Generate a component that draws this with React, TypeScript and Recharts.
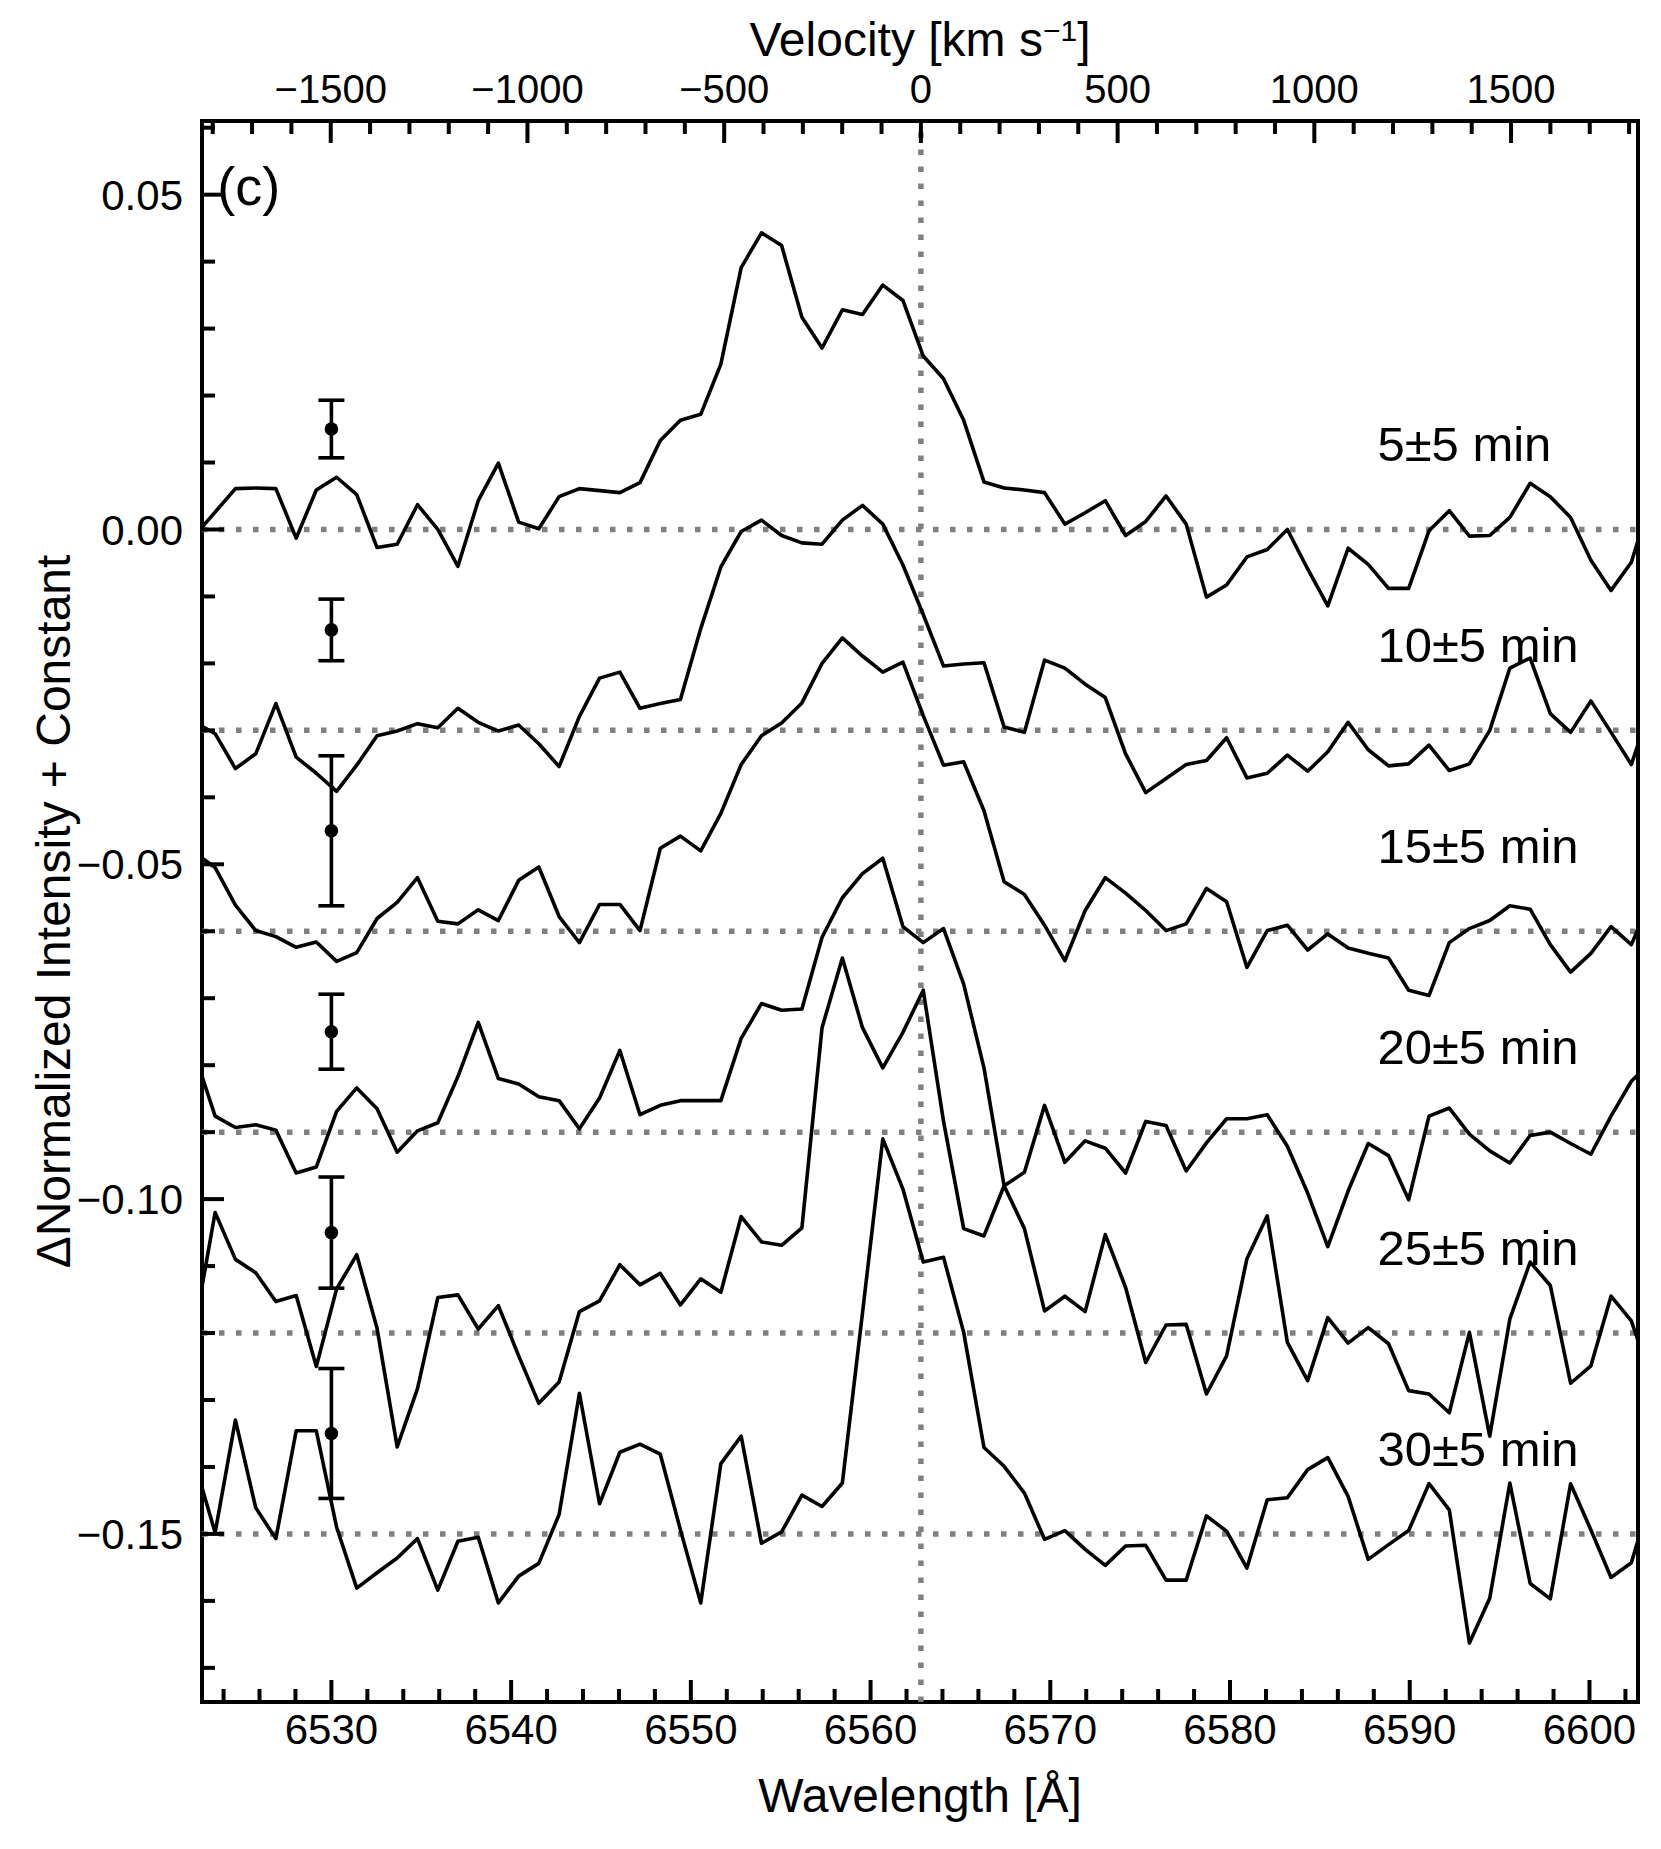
import React from "react";
import {
  ComposedChart,
  Line,
  Scatter,
  ErrorBar,
  XAxis,
  YAxis,
  ReferenceLine,
  ReferenceArea,
  ReferenceDot,
  Label,
} from "recharts";

// wavelength grid (Angstrom), one value per spectral pixel
const wavelengths = [
  6522.41, 6523.53, 6524.66, 6525.79, 6526.91, 6528.04, 6529.16, 6530.29, 6531.41, 6532.54,
  6533.66, 6534.79, 6535.92, 6537.04, 6538.17, 6539.29, 6540.42, 6541.54, 6542.67, 6543.8,
  6544.92, 6546.05, 6547.17, 6548.3, 6549.42, 6550.55, 6551.67, 6552.8, 6553.93, 6555.05,
  6556.18, 6557.3, 6558.43, 6559.55, 6560.68, 6561.8, 6562.93, 6564.06, 6565.18, 6566.31,
  6567.43, 6568.56, 6569.68, 6570.81, 6571.94, 6573.06, 6574.19, 6575.31, 6576.44, 6577.56,
  6578.69, 6579.81, 6580.94, 6582.07, 6583.19, 6584.32, 6585.44, 6586.57, 6587.69, 6588.82,
  6589.94, 6591.07, 6592.2, 6593.32, 6594.45, 6595.57, 6596.7, 6597.82, 6598.95, 6600.08,
  6601.2, 6602.33, 6603.45,
];

// delta normalized intensity + constant, one list per time bin
const flux5 = [
  -0.0009, 0.0026, 0.0061, 0.0062, 0.0061, -0.0013, 0.0059, 0.0078, 0.0052, -0.0027,
  -0.0022, 0.0037, 0.0, -0.0055, 0.0043, 0.0099, 0.0011, 0.0001, 0.0049, 0.0061,
  0.0058, 0.0055, 0.007, 0.0133, 0.0163, 0.0172, 0.0247, 0.0391, 0.0443, 0.0424,
  0.0317, 0.0271, 0.0328, 0.0321, 0.0365, 0.0342, 0.0259, 0.0225, 0.0163, 0.0071,
  0.0062, 0.0059, 0.0055, 0.0008, 0.0025, 0.0043, -0.0009, 0.0012, 0.005, 0.0008,
  -0.0101, -0.0083, -0.0041, -0.003, 0.0, -0.0059, -0.0114, -0.0028, -0.0052, -0.0088,
  -0.0088, -0.0002, 0.0028, -0.001, -0.0009, 0.0018, 0.0069, 0.0049, 0.0018, -0.0046,
  -0.0091, -0.0049, 0.0049,
];
const flux10 = [
  -0.0288, -0.0305, -0.0357, -0.0335, -0.026, -0.034, -0.0364, -0.0391, -0.0352, -0.0308,
  -0.0301, -0.029, -0.0296, -0.0267, -0.0288, -0.0301, -0.0292, -0.032, -0.0354, -0.0279,
  -0.0222, -0.0213, -0.0267, -0.026, -0.0254, -0.0148, -0.0056, -0.0003, 0.0014, -0.0009,
  -0.002, -0.0022, 0.0014, 0.0036, 0.0008, -0.0053, -0.0127, -0.0204, -0.0201, -0.0199,
  -0.0295, -0.0303, -0.0195, -0.0207, -0.0231, -0.0251, -0.0335, -0.0393, -0.0372, -0.0351,
  -0.0345, -0.0311, -0.0371, -0.0364, -0.0337, -0.0361, -0.0332, -0.0288, -0.0329, -0.0353,
  -0.035, -0.0322, -0.036, -0.035, -0.03, -0.0207, -0.0192, -0.0275, -0.0303, -0.0256,
  -0.0303, -0.0351, -0.026,
];
const flux15 = [
  -0.0483, -0.0505, -0.0561, -0.0599, -0.0608, -0.0624, -0.0616, -0.0645, -0.0632, -0.0581,
  -0.0557, -0.052, -0.0585, -0.0589, -0.0568, -0.0584, -0.0524, -0.0504, -0.0578, -0.0617,
  -0.056, -0.056, -0.0599, -0.0476, -0.0458, -0.048, -0.0424, -0.0351, -0.0308, -0.0289,
  -0.0259, -0.02, -0.0162, -0.0189, -0.0213, -0.0198, -0.0278, -0.0352, -0.0347, -0.042,
  -0.0526, -0.0545, -0.0591, -0.0644, -0.0569, -0.052, -0.0543, -0.0569, -0.0599, -0.0589,
  -0.0536, -0.0556, -0.0654, -0.0599, -0.0591, -0.0628, -0.0604, -0.0625, -0.0633, -0.064,
  -0.0688, -0.0696, -0.0617, -0.0596, -0.0584, -0.0562, -0.0567, -0.062, -0.0661, -0.0633,
  -0.0593, -0.062, -0.055,
];
const flux20 = [
  -0.0785, -0.0876, -0.0893, -0.0889, -0.0897, -0.0961, -0.0952, -0.0869, -0.0834, -0.0865,
  -0.093, -0.0898, -0.0886, -0.0817, -0.0736, -0.082, -0.0828, -0.0847, -0.0853, -0.0895,
  -0.0849, -0.0778, -0.0874, -0.086, -0.0853, -0.0853, -0.0853, -0.076, -0.0708, -0.0718,
  -0.0716, -0.0609, -0.055, -0.0514, -0.0491, -0.0593, -0.0617, -0.0596, -0.0679, -0.0804,
  -0.098, -0.096, -0.086, -0.0945, -0.0913, -0.0924, -0.0961, -0.0884, -0.089, -0.0958,
  -0.0916, -0.088, -0.088, -0.0874, -0.0921, -0.0991, -0.1071, -0.0988, -0.0917, -0.0935,
  -0.1001, -0.0876, -0.0864, -0.0903, -0.0928, -0.0946, -0.0905, -0.09, -0.0917, -0.0933,
  -0.0876, -0.0824, -0.0795,
];
const flux25 = [
  -0.119, -0.102, -0.109, -0.111, -0.1153, -0.1144, -0.125, -0.1134, -0.1083, -0.1193,
  -0.137, -0.1283, -0.1147, -0.1143, -0.1194, -0.1159, -0.1234, -0.1305, -0.1273, -0.1168,
  -0.1152, -0.1098, -0.1128, -0.1111, -0.1158, -0.1119, -0.1139, -0.1026, -0.1064, -0.1069,
  -0.1043, -0.0744, -0.064, -0.0744, -0.0804, -0.0751, -0.0688, -0.0884, -0.1044, -0.1055,
  -0.098, -0.1044, -0.1167, -0.1145, -0.1168, -0.1053, -0.1132, -0.1244, -0.1188, -0.1187,
  -0.1291, -0.1234, -0.1089, -0.1025, -0.1214, -0.1271, -0.1177, -0.1215, -0.1192, -0.1216,
  -0.1286, -0.1291, -0.1319, -0.1199, -0.1354, -0.1179, -0.1094, -0.1129, -0.1275, -0.1249,
  -0.1145, -0.1182, -0.127,
];
const flux30 = [
  -0.1395, -0.1498, -0.133, -0.1461, -0.1507, -0.1346, -0.1346, -0.149, -0.1581, -0.1558,
  -0.1536, -0.1507, -0.1584, -0.1511, -0.1505, -0.1603, -0.1563, -0.1544, -0.1471, -0.129,
  -0.1455, -0.1378, -0.1366, -0.1381, -0.1494, -0.1603, -0.1395, -0.1354, -0.1514, -0.1497,
  -0.1442, -0.1459, -0.1424, -0.117, -0.091, -0.0985, -0.1094, -0.1087, -0.1199, -0.1371,
  -0.1399, -0.1439, -0.1508, -0.1495, -0.1523, -0.1547, -0.1518, -0.1517, -0.1569, -0.1569,
  -0.1473, -0.1496, -0.1551, -0.1449, -0.1446, -0.1404, -0.1386, -0.1444, -0.1538, -0.1516,
  -0.1495, -0.1425, -0.1464, -0.1663, -0.1596, -0.1424, -0.1574, -0.1597, -0.1425, -0.1494,
  -0.1565, -0.1543, -0.1442,
];

const seriesKeys = ["s5", "s10", "s15", "s20", "s25", "s30"];
const seriesLabels = ["5±5 min", "10±5 min", "15±5 min", "20±5 min", "25±5 min", "30±5 min"];
const baselines = [0, -0.03, -0.06, -0.09, -0.12, -0.15];

// representative error bars, drawn at 6530 A
const errorWavelength = 6530;
const errorCenters = [0.015, -0.015, -0.045, -0.075, -0.105, -0.135];
const errorSizes = [0.0043, 0.0046, 0.0112, 0.0056, 0.0083, 0.0097];

const wlMajorTicks = [6530, 6540, 6550, 6560, 6570, 6580, 6590, 6600];
const wlMinorTicks = [
  6524, 6526, 6528, 6532, 6534, 6536, 6538, 6542, 6544, 6546, 6548, 6552, 6554, 6556, 6558,
  6562, 6564, 6566, 6568, 6572, 6574, 6576, 6578, 6582, 6584, 6586, 6588, 6592, 6594, 6596,
  6598, 6602,
];
const velMajorTicks = [-1500, -1000, -500, 0, 500, 1000, 1500];
const velMinorTicks = [
  -1800, -1700, -1600, -1400, -1300, -1200, -1100, -900, -800, -700, -600, -400, -300, -200,
  -100, 100, 200, 300, 400, 600, 700, 800, 900, 1100, 1200, 1300, 1400, 1600, 1700, 1800,
];
const yMajorTicks = [-0.15, -0.1, -0.05, 0, 0.05];
const yMinorTicks = [
  -0.17, -0.16, -0.14, -0.13, -0.12, -0.11, -0.09, -0.08, -0.07, -0.06, -0.04, -0.03, -0.02,
  -0.01, 0.01, 0.02, 0.03, 0.04, 0.06,
];

const HALPHA = 6562.8;
const C_KMS = 299792.458;
const xDomain: [number, number] = [6522.8, 6602.7];
const yDomain: [number, number] = [-0.1751, 0.061];

const FONT = "'Liberation Sans', Arial, Helvetica, sans-serif";
const MAJOR_LEN = 22;
const MINOR_LEN = 13;
const TICK_W = 4;

const toWl = (v: number) => HALPHA * (1 + v / C_KMS);
const toVel = (wl: number) => C_KMS * (wl / HALPHA - 1);
const minus = (s: string) => s.replace("-", "\u2212");

const rows = wavelengths.map((wl, i) => ({
  wl,
  s5: flux5[i],
  s10: flux10[i],
  s15: flux15[i],
  s20: flux20[i],
  s25: flux25[i],
  s30: flux30[i],
}));

const errorRows = errorCenters.map((y, i) => ({ wl: errorWavelength, y, err: errorSizes[i] }));

const BottomTick = (props: any) => {
  const { x, y, payload } = props;
  const major = wlMajorTicks.includes(payload.value);
  return (
    <g>
      <line x1={x} y1={y} x2={x} y2={y - (major ? MAJOR_LEN : MINOR_LEN)} stroke="#000" strokeWidth={TICK_W} />
      {major && (
        <text x={x} y={y + 42} textAnchor="middle" fontSize={42} fontFamily={FONT} fill="#000">
          {payload.value}
        </text>
      )}
    </g>
  );
};

const TopTick = (props: any) => {
  const { x, y, payload } = props;
  const v = Math.round(toVel(payload.value));
  const major = velMajorTicks.includes(v);
  return (
    <g>
      <line x1={x} y1={y} x2={x} y2={y + (major ? MAJOR_LEN : MINOR_LEN)} stroke="#000" strokeWidth={TICK_W} />
      {major && (
        <text x={x} y={y - 18} textAnchor="middle" fontSize={40} fontFamily={FONT} fill="#000">
          {minus(String(v))}
        </text>
      )}
    </g>
  );
};

const LeftTick = (props: any) => {
  const { x, y, payload } = props;
  const major = yMajorTicks.includes(payload.value);
  return (
    <g>
      <line x1={x} y1={y} x2={x + (major ? MAJOR_LEN : MINOR_LEN)} y2={y} stroke="#000" strokeWidth={TICK_W} />
      {major && (
        <text x={x - 19} y={y} dy="0.36em" textAnchor="end" fontSize={42} fontFamily={FONT} fill="#000">
          {minus(payload.value.toFixed(2))}
        </text>
      )}
    </g>
  );
};

const App: React.FC = () => {
  return (
    <div style={{ width: 1645, height: 1833 }}>
      <ComposedChart
        width={1645}
        height={1833}
        data={rows}
        margin={{ top: 73, right: 15, bottom: 99, left: 134 }}
      >
        <XAxis
          dataKey="wl"
          type="number"
          domain={xDomain}
          allowDataOverflow
          ticks={[...wlMajorTicks, ...wlMinorTicks]}
          interval={0}
          tick={(p: any) => <BottomTick {...p} />}
          tickLine={false}
          axisLine={false}
          tickSize={0}
          tickMargin={0}
          height={40}
        >
          <Label
            content={(p: any) => {
              const vb = p.viewBox;
              return (
                <text x={vb.x + vb.width / 2} y={vb.y + 110} textAnchor="middle" fontSize={48} fontFamily={FONT} fill="#000">
                  Wavelength [Å]
                </text>
              );
            }}
          />
        </XAxis>
        <XAxis
          xAxisId="top"
          orientation="top"
          dataKey="wl"
          type="number"
          domain={xDomain}
          allowDataOverflow
          ticks={[...velMajorTicks, ...velMinorTicks].map(toWl)}
          interval={0}
          tick={(p: any) => <TopTick {...p} />}
          tickLine={false}
          axisLine={false}
          tickSize={0}
          tickMargin={0}
          height={40}
        >
          <Label
            content={(p: any) => {
              const vb = p.viewBox;
              return (
                <text x={vb.x + vb.width / 2} y={vb.y + vb.height - 65} textAnchor="middle" fontSize={48} fontFamily={FONT} fill="#000">
                  Velocity [km s
                  <tspan dy={-15} fontSize={30}>
                    −1
                  </tspan>
                  <tspan dy={15}>]</tspan>
                </text>
              );
            }}
          />
        </XAxis>
        <YAxis
          type="number"
          domain={yDomain}
          allowDataOverflow
          ticks={[...yMajorTicks, ...yMinorTicks]}
          interval={0}
          tick={(p: any) => <LeftTick {...p} />}
          tickLine={false}
          axisLine={false}
          tickSize={0}
          tickMargin={0}
          width={60}
        >
          <Label
            content={(p: any) => {
              const vb = p.viewBox;
              const cx = vb.x + vb.width - 149;
              const cy = vb.y + vb.height / 2;
              return (
                <text
                  x={cx}
                  y={cy}
                  dy="0.36em"
                  transform={`rotate(-90, ${cx}, ${cy})`}
                  textAnchor="middle"
                  fontSize={48}
                  fontFamily={FONT}
                  fill="#000"
                >
                  ΔNormalized Intensity + Constant
                </text>
              );
            }}
          />
        </YAxis>

        {baselines.map((b) => (
          <ReferenceLine key={`base-${b}`} y={b} stroke="#808080" strokeWidth={5.5} strokeDasharray="5.5 11.5" />
        ))}
        <ReferenceLine x={HALPHA} stroke="#808080" strokeWidth={5.5} strokeDasharray="5.5 11.5" />

        {seriesKeys.map((k) => (
          <Line
            key={k}
            dataKey={k}
            type="linear"
            stroke="#000"
            strokeWidth={3.6}
            strokeLinejoin="round"
            dot={false}
            activeDot={false}
            isAnimationActive={false}
          />
        ))}

        <Scatter
          data={errorRows}
          dataKey="y"
          isAnimationActive={false}
          shape={(p: any) => <circle cx={p.cx} cy={p.cy} r={6.8} fill="#000" />}
        >
          <ErrorBar dataKey="err" direction="y" width={13} strokeWidth={3.6} stroke="#000" isAnimationActive={false} />
        </Scatter>

        {seriesLabels.map((lab, i) => (
          <ReferenceDot
            key={lab}
            x={6588.2}
            y={baselines[i] + 0.0102}
            r={0}
            shape={(p: any) => (
              <text x={p.cx} y={p.cy} textAnchor="start" fontSize={49} fontFamily={FONT} fill="#000">
                {lab}
              </text>
            )}
          />
        ))}
        <ReferenceDot
          x={6523.65}
          y={0.0485}
          r={0}
          shape={(p: any) => (
            <text x={p.cx} y={p.cy} textAnchor="start" fontSize={54} fontFamily={FONT} fill="#000">
              (c)
            </text>
          )}
        />

        <ReferenceArea
          x1={xDomain[0]}
          x2={xDomain[1]}
          y1={yDomain[0]}
          y2={yDomain[1]}
          fill="none"
          stroke="#000"
          strokeWidth={4}
        />
      </ComposedChart>
    </div>
  );
};

export default App;
